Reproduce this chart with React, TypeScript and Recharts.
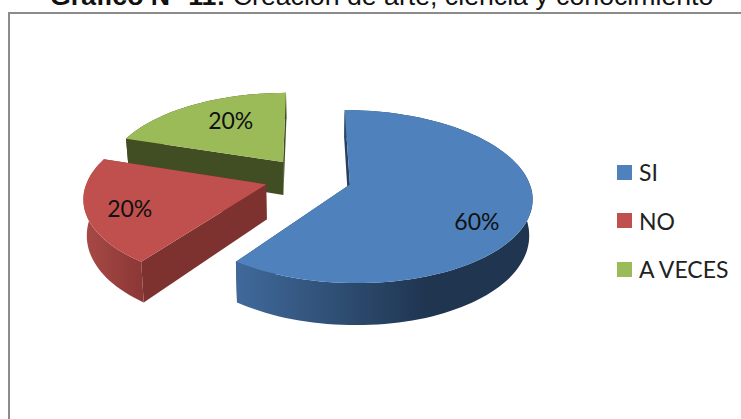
import { PieChart, Pie, Legend } from 'recharts'

const CATEGORIES = ['SI', 'NO', 'A VECES']
const VALUES = [60, 20, 20]

const COLORS: Record<string, any> = {
  SI: { top: '#4f81bd', cut: '#27405f', wallFrom: '#406a9b', wallTo: '#1f3550', wallStop: 0.65, labelR: 0.76, nudge: [-9, 17] },
  NO: { top: '#c0504d', cut: '#7e3230', wallFrom: '#a84a47', wallTo: '#8a3735', wallStop: 1, labelR: 0.8, nudge: [7, 3] },
  'A VECES': { top: '#9bbb59', cut: '#414d22', wallFrom: '#414d22', wallTo: '#414d22', wallStop: 1, labelR: 0.55, nudge: [-1, -8] },
}

// painted back to front, so the table runs the other way round the pie
const TABLE = CATEGORIES.map((name, i) => ({ name, value: VALUES[i] })).reverse()

const FONT = 'Lato, sans-serif'
const TILT = 83 / 178
const PERSPECTIVE = 0.14
const EXPLODE = 0.245

const rad = (a: number) => (a * Math.PI) / 180

// ground plane -> screen, with a little perspective towards the viewer
const project = (cx: number, cy: number, R: number, X: number, Y: number, lower = false) => {
  const s = 1 / (1 - PERSPECTIVE * Y)
  let x = cx + R * X * s
  let y = cy + R * TILT * Y * s
  if (lower) {
    x = cx + (x - cx) * 0.985
    y += 34.5 + 7 * Y
  }
  return [x, y]
}

const toPath = (pts: number[][]) => 'M' + pts.map((p) => p[0].toFixed(1) + ',' + p[1].toFixed(1)).join('L') + 'Z'

const Slice3D = (props: any) => {
  const { cx, cy, outerRadius: R, startAngle, endAngle, payload } = props
  const c = COLORS[payload.name]
  const mid = rad((startAngle + endAngle) / 2)
  const ox = Math.cos(mid) * EXPLODE
  const oy = -Math.sin(mid) * EXPLODE
  const at = (a: number, r: number, lower = false) =>
    project(cx, cy, R, ox + Math.cos(rad(a)) * r, oy - Math.sin(rad(a)) * r, lower)

  const arcAngles: number[] = []
  const steps = Math.ceil((endAngle - startAngle) / 2)
  for (let i = 0; i <= steps; i++) arcAngles.push(startAngle + ((endAngle - startAngle) * i) / steps)

  const topArc = arcAngles.map((a) => at(a, 1))
  const lowArc = arcAngles.map((a) => at(a, 1, true))
  const gradId = 'wall-' + payload.name.replace(' ', '')
  const label = at((startAngle + endAngle) / 2, c.labelR)

  return (
    <g>
      <defs>
        <linearGradient id={gradId} x1="0" y1="0" x2="1" y2="0">
          <stop offset="0" stopColor={c.wallFrom} />
          <stop offset={c.wallStop} stopColor={c.wallTo} />
        </linearGradient>
      </defs>
      <path d={toPath([at(0, 0), at(startAngle, 1), at(startAngle, 1, true), at(0, 0, true)])} fill={c.cut} />
      <path d={toPath([at(0, 0), at(endAngle, 1), at(endAngle, 1, true), at(0, 0, true)])} fill={c.cut} />
      <path d={toPath([...topArc, ...lowArc.slice().reverse()])} fill={`url(#${gradId})`} />
      <path d={toPath([at(0, 0), ...topArc])} fill={c.top} />
      <text x={label[0] + c.nudge[0]} y={label[1] + c.nudge[1] + 8} textAnchor="middle" fontFamily={FONT} fontSize={23} fill="#111">
        {payload.value}%
      </text>
    </g>
  )
}

const LegendBox = () => (
  <div>
    {CATEGORIES.map((name) => (
      <div key={name} style={{ display: 'flex', alignItems: 'center', height: 48.5, fontFamily: FONT, fontSize: 23, color: '#222' }}>
        <span style={{ width: 15, height: 15, background: COLORS[name].top, marginRight: 7 }} />
        {name}
      </div>
    ))}
  </div>
)

export default function App() {
  return (
    <div style={{ position: 'absolute', left: 0, top: 0, width: 741, height: 419, overflow: 'hidden', background: '#fff' }}>
      <div style={{ position: 'absolute', left: 50, top: -18, whiteSpace: 'nowrap', fontFamily: '"Liberation Sans", Arial, sans-serif', fontSize: 26.7, lineHeight: '29px', color: '#111' }}>
        <b>Gráfico N° 11:</b> Creación de arte, ciencia y conocimiento
      </div>
      <div style={{ position: 'absolute', left: 8, top: 12, width: 733, height: 407, boxSizing: 'border-box', borderTop: '2px solid #8c8c8c', borderLeft: '2.5px solid #8c8c8c' }} />
      <div style={{ position: 'absolute', left: 0, top: 0 }}>
        <PieChart width={741} height={419}>
          <Pie
            data={TABLE}
            dataKey="value"
            nameKey="name"
            cx={303}
            cy={173}
            outerRadius={178}
            startAngle={90}
            endAngle={450}
            stroke="none"
            shape={Slice3D}
            isAnimationActive={false}
          />
          <Legend content={<LegendBox />} layout="vertical" wrapperStyle={{ position: 'absolute', left: 617, top: 148, width: 124, bottom: 'auto' }} />
        </PieChart>
      </div>
    </div>
  )
}
